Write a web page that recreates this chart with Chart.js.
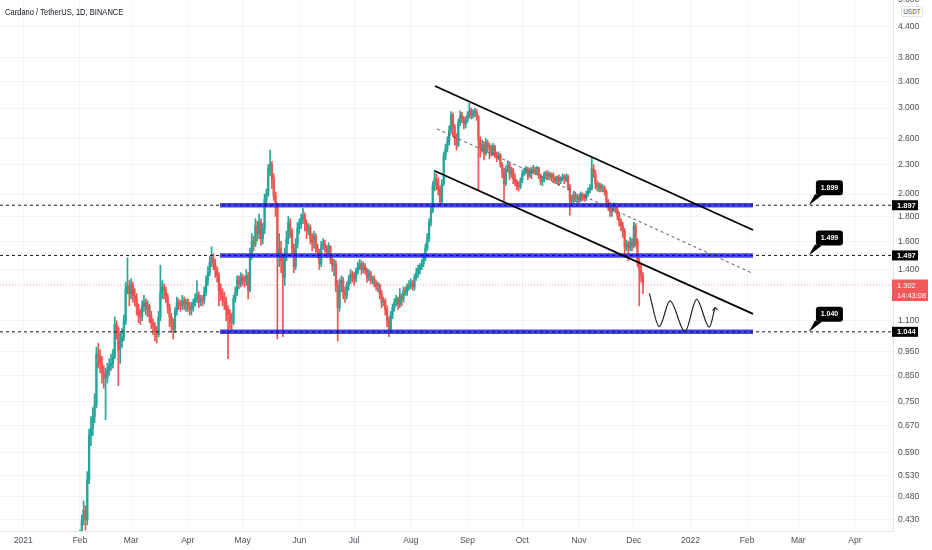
<!DOCTYPE html>
<html><head><meta charset="utf-8">
<script src="https://cdn.jsdelivr.net/npm/chart.js@4.4.1/dist/chart.umd.min.js"></script>
<style>
html,body{margin:0;padding:0;background:#fff;}
#wrap{position:relative;width:932px;height:550px;overflow:hidden;}
#title{position:absolute;left:5px;top:7px;font:9px 'Liberation Sans',Arial,sans-serif;color:#131722;transform:scaleX(0.84);transform-origin:0 0;white-space:nowrap;}
#cur{position:absolute;left:901px;top:6px;width:20px;height:9px;border:1px solid #e0e3eb;border-radius:2px;font:6.5px 'Liberation Sans',Arial,sans-serif;color:#555;text-align:center;line-height:9px;background:#fff;}
</style></head>
<body><div id="wrap"><canvas id="c" width="932" height="550"></canvas>
<div id="title">Cardano / TetherUS, 1D, BINANCE</div><div id="cur">USDT</div></div>
<script>
// ---- data (day index = days since 2021-01-01) ----
const firstDay = 30;          // 2021-01-31
const firstOpen = 0.36;
const closes = [
 0.385,
 0.40,0.43,0.45,0.43,0.52,0.64,0.66,0.70,0.74,0.94,0.93,0.90,0.86,0.84,0.84,0.87,0.89,0.90,0.93,1.08,1.06,0.96,1.00,1.02,1.10,1.28,1.30,1.25,
 1.30,1.24,1.22,1.17,1.13,1.12,1.18,1.20,1.16,1.18,1.13,1.09,1.07,1.04,1.03,1.12,1.26,1.29,1.27,1.23,1.17,1.12,1.08,1.06,1.15,1.20,1.19,1.18,1.21,1.19,1.20,
 1.18,1.16,1.17,1.20,1.22,1.24,1.20,1.22,1.21,1.26,1.33,1.38,1.45,1.48,1.44,1.40,1.36,1.27,1.25,1.22,1.20,1.16,1.13,1.10,1.09,1.22,1.26,1.33,1.31,1.35,
 1.33,1.32,1.36,1.27,1.50,1.60,1.58,1.72,1.66,1.75,1.62,1.70,1.95,2.00,2.25,2.30,2.15,1.98,1.88,1.50,1.55,1.46,1.35,1.50,1.62,1.75,1.68,1.55,1.42,1.58,1.70,
 1.74,1.78,1.81,1.74,1.68,1.71,1.62,1.60,1.64,1.55,1.52,1.44,1.57,1.58,1.55,1.52,1.56,1.47,1.43,1.44,1.30,1.17,1.30,1.33,1.26,1.24,1.30,1.33,1.37,1.36,
 1.34,1.39,1.42,1.44,1.40,1.42,1.40,1.35,1.38,1.33,1.34,1.31,1.30,1.30,1.25,1.20,1.21,1.16,1.10,1.05,1.13,1.17,1.20,1.22,1.19,1.23,1.22,1.27,1.26,1.29,1.30,
 1.31,1.29,1.35,1.38,1.40,1.42,1.44,1.48,1.55,1.62,1.75,1.85,2.08,2.15,2.12,2.05,1.93,2.10,2.40,2.48,2.56,2.70,2.90,2.75,2.60,2.52,2.80,2.90,2.85,2.78,2.83,
 2.90,2.96,2.90,2.93,2.95,2.88,2.58,2.48,2.52,2.42,2.55,2.50,2.48,2.42,2.50,2.40,2.38,2.41,2.30,2.22,2.10,2.25,2.30,2.20,2.24,2.15,2.12,2.08,2.07,2.13,
 2.20,2.22,2.25,2.18,2.24,2.22,2.25,2.22,2.26,2.18,2.12,2.15,2.20,2.18,2.20,2.17,2.19,2.15,2.13,2.16,2.12,2.15,2.17,2.14,2.17,2.07,1.95,1.93,1.99,1.96,1.97,
 1.95,1.99,1.97,1.96,2.00,2.03,2.05,2.25,2.20,2.10,2.07,2.08,2.05,2.06,2.02,1.93,1.90,1.84,1.87,1.89,1.86,1.81,1.76,1.72,1.68,1.56,1.58,1.55,1.59,1.57,
 1.72,1.60,1.45,1.40,1.36,1.302
];
const highs = [
 0.40,
 0.41,0.44,0.47,0.46,0.54,0.66,0.70,0.73,0.78,0.97,0.99,0.96,0.93,0.89,0.88,0.90,0.92,0.94,0.96,1.12,1.10,1.07,1.04,1.06,1.13,1.32,1.48,1.33,
 1.34,1.32,1.28,1.25,1.19,1.16,1.21,1.24,1.22,1.21,1.19,1.15,1.11,1.09,1.07,1.15,1.43,1.33,1.31,1.29,1.25,1.19,1.14,1.11,1.17,1.23,1.22,1.21,1.24,1.23,1.22,
 1.22,1.20,1.20,1.22,1.25,1.33,1.26,1.24,1.24,1.29,1.36,1.42,1.49,1.56,1.51,1.47,1.42,1.38,1.31,1.28,1.26,1.23,1.18,1.16,1.14,1.24,1.29,1.36,1.36,1.38,
 1.37,1.36,1.40,1.38,1.55,1.66,1.64,1.78,1.76,1.82,1.78,1.74,2.00,2.05,2.30,2.46,2.33,2.20,2.02,1.92,1.66,1.60,1.50,1.55,1.68,1.80,1.78,1.70,1.58,1.62,1.75,
 1.78,1.82,1.87,1.83,1.77,1.74,1.73,1.66,1.68,1.66,1.58,1.54,1.60,1.62,1.61,1.57,1.59,1.57,1.49,1.47,1.46,1.33,1.34,1.36,1.35,1.29,1.32,1.36,1.40,1.39,
 1.38,1.41,1.45,1.47,1.46,1.45,1.44,1.41,1.40,1.39,1.36,1.36,1.33,1.32,1.31,1.27,1.23,1.22,1.18,1.12,1.15,1.19,1.22,1.24,1.23,1.28,1.25,1.29,1.29,1.31,1.33,
 1.34,1.33,1.37,1.41,1.43,1.44,1.47,1.51,1.58,1.66,1.78,1.90,2.12,2.24,2.20,2.16,2.08,2.14,2.44,2.53,2.62,2.76,2.95,2.93,2.78,2.66,2.85,2.96,2.94,2.88,2.88,
 2.95,3.07,3.00,2.98,3.00,2.98,2.90,2.62,2.58,2.56,2.60,2.58,2.54,2.52,2.54,2.52,2.44,2.44,2.42,2.32,2.26,2.28,2.34,2.32,2.27,2.26,2.20,2.14,2.12,2.16,
 2.24,2.26,2.28,2.27,2.26,2.27,2.29,2.27,2.28,2.27,2.20,2.17,2.22,2.23,2.23,2.22,2.21,2.21,2.17,2.18,2.19,2.17,2.20,2.19,2.20,2.19,2.09,1.99,2.02,2.01,2.00,
 1.99,2.02,2.01,2.00,2.03,2.06,2.09,2.37,2.30,2.24,2.13,2.11,2.10,2.09,2.08,2.04,1.95,1.92,1.89,1.92,1.91,1.88,1.83,1.78,1.75,1.70,1.61,1.60,1.63,1.62,
 1.75,1.74,1.62,1.48,1.44,1.38
];
const lows = [
 0.35,
 0.37,0.39,0.42,0.41,0.42,0.51,0.61,0.64,0.68,0.73,0.88,0.86,0.82,0.80,0.69,0.82,0.85,0.87,0.88,0.92,1.01,0.81,0.90,0.97,1.00,1.08,1.25,1.18,
 1.22,1.20,1.18,1.13,1.09,1.08,1.10,1.15,1.13,1.12,1.09,1.06,1.03,1.00,0.99,1.02,1.10,1.22,1.22,1.20,1.14,1.07,1.04,1.01,1.04,1.13,1.16,1.15,1.16,1.16,1.15,
 1.15,1.13,1.13,1.15,1.18,1.20,1.17,1.18,1.18,1.19,1.24,1.30,1.36,1.42,1.40,1.35,1.32,1.18,1.21,1.18,1.16,1.10,0.92,1.06,1.05,1.08,1.20,1.24,1.28,1.29,
 1.30,1.29,1.30,1.22,1.26,1.47,1.53,1.56,1.60,1.62,1.57,1.58,1.66,1.90,1.98,2.18,2.05,1.94,1.80,1.01,1.42,1.38,1.02,1.30,1.46,1.58,1.63,1.50,1.38,1.40,1.55,
 1.66,1.70,1.74,1.68,1.62,1.65,1.58,1.53,1.55,1.52,1.48,1.40,1.42,1.54,1.52,1.48,1.50,1.44,1.39,1.36,1.26,1.00,1.15,1.26,1.22,1.20,1.22,1.27,1.31,1.32,
 1.30,1.32,1.37,1.40,1.37,1.38,1.37,1.32,1.33,1.31,1.31,1.29,1.27,1.26,1.22,1.17,1.18,1.13,1.07,1.02,1.04,1.11,1.15,1.18,1.16,1.17,1.18,1.20,1.24,1.24,1.27,
 1.28,1.27,1.27,1.33,1.35,1.37,1.40,1.42,1.46,1.53,1.60,1.72,1.83,2.03,2.04,1.99,1.90,1.91,2.08,2.35,2.44,2.52,2.66,2.62,2.52,2.46,2.50,2.76,2.80,2.72,2.73,
 2.80,2.86,2.85,2.86,2.88,2.83,2.04,2.38,2.44,2.35,2.40,2.45,2.36,2.39,2.40,2.37,2.33,2.35,2.27,2.16,1.94,2.08,2.22,2.14,2.16,2.10,2.08,2.04,2.03,2.05,
 2.11,2.18,2.20,2.14,2.16,2.15,2.20,2.19,2.20,2.15,2.09,2.08,2.12,2.15,2.15,2.14,2.13,2.12,2.10,2.10,2.08,2.10,2.13,2.10,2.12,2.04,1.81,1.89,1.91,1.93,1.92,
 1.91,1.93,1.94,1.93,1.94,1.98,2.01,2.04,2.16,2.05,2.03,2.02,2.02,2.02,1.99,1.88,1.85,1.80,1.80,1.84,1.83,1.77,1.72,1.68,1.63,1.50,1.53,1.46,1.53,1.53,
 1.55,1.56,1.42,1.18,1.32,1.25
];
const monthTicks  = [0,31,59,90,120,151,181,212,243,273,304,334,365,396,424,455];
const monthLabels = ['2021','Feb','Mar','Apr','May','Jun','Jul','Aug','Sep','Oct','Nov','Dec','2022','Feb','Mar','Apr'];
const priceTicks  = [5,4.4,3.8,3.4,3,2.6,2.3,2,1.8,1.6,1.4,1.1,0.95,0.85,0.75,0.67,0.59,0.53,0.48,0.43];
const levels        = [1.897,1.497,1.044];
const calloutLabels = ['1.899','1.499','1.040'];
const calloutDay = 429.8;
const bandFrom = 107.6, bandTo = 399.2;
const channelUpper = [[225.2,3.33],[399.2,1.688]];
const channelLower = [[225.2,2.23],[399.2,1.136]];
const channelMid   = [[226.3,2.718],[398.6,1.378]];
const wavePath  = [[342.5,1.252],[347.9,1.070],[353.8,1.208],[362.0,1.045],[368.4,1.217],[375.3,1.067],[378.4,1.170]];
const arrowHead = [[377.1,1.154],[378.4,1.170],[379.9,1.158]];
const lastPrice = 1.302, countdown = '14:43:08';
const xMin = -12.75, xMax = 475.8, yMin = 0.408, yMax = 4.995;

// ---- build ----
const UP = '#26a69a', DOWN = '#ef5350';
const bodies = [], wicks = [], colors = [];
let prev = firstOpen;
closes.forEach((c, i) => {
  const d = firstDay + i;
  bodies.push({x: d, y: [prev, c]});
  wicks.push({x: d, y: [lows[i], highs[i]]});
  colors.push(c >= prev ? UP : DOWN);
  prev = c;
});
const pts = a => a.map(p => ({x: p[0], y: p[1]}));
const lineDs = (data, color, width, dash, order, extra) => Object.assign({
  type: 'line', data, borderColor: color, borderWidth: width, borderDash: dash || [],
  pointRadius: 0, fill: false, tension: 0, order
}, extra || {});

const FONT = "'Liberation Sans',Arial,sans-serif";
const datasets = [
  {type: 'bar', data: wicks, backgroundColor: colors, barThickness: 1, grouped: false, order: 20},
  {type: 'bar', data: bodies, backgroundColor: colors, barThickness: 1.6, grouped: false, minBarLength: 1, order: 19},
  lineDs([{x: xMin, y: lastPrice}, {x: xMax, y: lastPrice}], 'rgba(239,83,80,0.55)', 1, [1, 2], 18)
];
levels.forEach(lv => {
  datasets.push(lineDs([{x: bandFrom, y: lv}, {x: bandTo, y: lv}], 'rgba(40,40,232,0.88)', 4.5, [], 10));
  datasets.push(lineDs([{x: xMin, y: lv}, {x: xMax, y: lv}], '#131722', 1, [3, 3], 9));
});
datasets.push(lineDs(pts(channelUpper), '#000', 1.8, [], 5));
datasets.push(lineDs(pts(channelLower), '#000', 1.8, [], 5));
datasets.push(lineDs(pts(channelMid), '#555', 1, [3, 3], 5));
datasets.push(lineDs(pts(wavePath), '#222', 1.2, [], 4, {cubicInterpolationMode: 'monotone'}));
datasets.push(lineDs(pts(arrowHead), '#222', 1.2, [], 4));

function rr(ctx, x, y, w, h, r) {
  ctx.beginPath();
  ctx.moveTo(x + r, y); ctx.lineTo(x + w - r, y); ctx.quadraticCurveTo(x + w, y, x + w, y + r);
  ctx.lineTo(x + w, y + h - r); ctx.quadraticCurveTo(x + w, y + h, x + w - r, y + h);
  ctx.lineTo(x + r, y + h); ctx.quadraticCurveTo(x, y + h, x, y + h - r);
  ctx.lineTo(x, y + r); ctx.quadraticCurveTo(x, y, x + r, y); ctx.closePath();
}

const overlay = {
  id: 'overlay',
  afterDatasetsDraw(chart) {
    const {ctx, scales: {x, y}} = chart;
    ctx.save();
    levels.forEach((lv, i) => {
      const px = x.getPixelForValue(calloutDay), py = y.getPixelForValue(lv);
      ctx.fillStyle = '#000';
      ctx.beginPath(); ctx.moveTo(px, py); ctx.lineTo(px + 6, py - 11); ctx.lineTo(px + 13, py - 10); ctx.closePath(); ctx.fill();
      rr(ctx, px + 7, py - 25, 27, 15, 3); ctx.fill();
      ctx.fillStyle = '#fff'; ctx.font = 'bold 7px ' + FONT;
      ctx.textAlign = 'center'; ctx.textBaseline = 'middle';
      ctx.fillText(calloutLabels[i], px + 20.5, py - 17.3);
    });
    ctx.restore();
  },
  afterDraw(chart) {
    const {ctx, scales: {y}, chartArea} = chart;
    ctx.save();
    const ax = chartArea.right - 1;
    levels.forEach(lv => {
      const py = y.getPixelForValue(lv);
      ctx.fillStyle = '#000';
      ctx.fillRect(ax, py - 5, 26, 10);
      ctx.fillStyle = '#fff'; ctx.font = 'bold 7.5px ' + FONT;
      ctx.textAlign = 'left'; ctx.textBaseline = 'middle';
      ctx.fillText(lv.toFixed(3), ax + 5, py + 0.5);
    });
    const pp = y.getPixelForValue(lastPrice);
    ctx.fillStyle = '#f0595a';
    ctx.fillRect(ax, pp - 5.5, 36, 21.5);
    ctx.fillStyle = '#fff'; ctx.font = '7.5px ' + FONT;
    ctx.textAlign = 'left'; ctx.textBaseline = 'middle';
    ctx.fillText(lastPrice.toFixed(3), ax + 5, pp + 0.5);
    ctx.fillText(countdown, ax + 5, pp + 10.5);
    ctx.restore();
  }
};

new Chart(document.getElementById('c'), {
  type: 'bar',
  data: {datasets},
  plugins: [overlay],
  options: {
    responsive: false, animation: false, events: [],
    layout: {padding: 0},
    plugins: {legend: {display: false}, tooltip: {enabled: false}},
    scales: {
      x: {
        type: 'linear', min: xMin, max: xMax, offset: false,
        grid: {color: 'rgba(0,0,0,0.045)', drawTicks: false, offset: false},
        border: {color: '#e0e3eb'},
        afterBuildTicks: s => { s.ticks = monthTicks.map(v => ({value: v})); },
        afterFit: s => { s.height = 19; s.paddingLeft = 0; s.paddingRight = 0; },
        ticks: {autoSkip: false, maxRotation: 0, padding: 5, color: '#4a4e58',
          font: {family: FONT, size: 8.5},
          callback: (v, i) => monthLabels[i]}
      },
      y: {
        type: 'logarithmic', position: 'right', min: yMin, max: yMax,
        grid: {color: 'rgba(0,0,0,0.045)', drawTicks: false},
        border: {color: '#e0e3eb'},
        afterBuildTicks: s => { s.ticks = priceTicks.map(v => ({value: v})); },
        afterFit: s => { s.width = 39; s.paddingTop = 0; s.paddingBottom = 0; },
        ticks: {autoSkip: false, padding: 5, color: '#4a4e58',
          font: {family: FONT, size: 8.5},
          callback: v => Number(v).toFixed(3)}
      }
    }
  }
});
</script></body></html>
